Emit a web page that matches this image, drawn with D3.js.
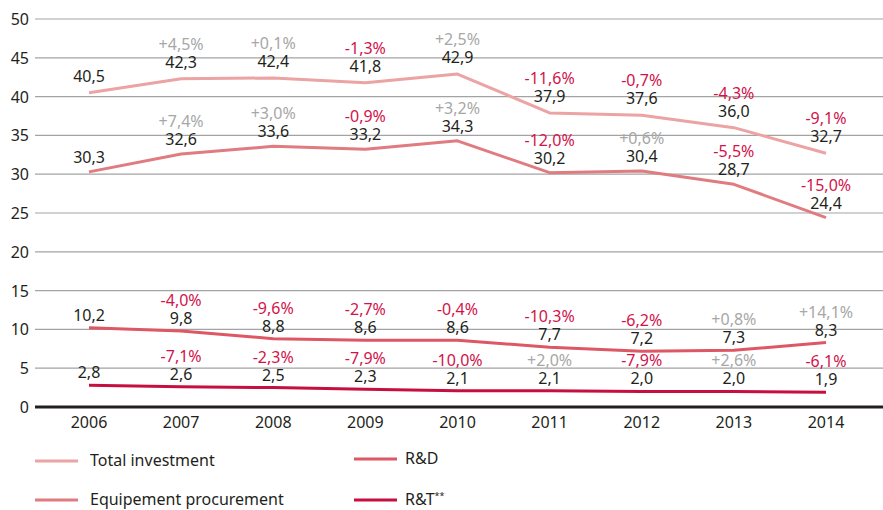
<!DOCTYPE html>
<html>
<head>
<meta charset="utf-8">
<script src="https://cdn.jsdelivr.net/npm/d3@7"></script>
<style>
  body { margin: 0; background: #fff; }
  text { font-family: "Noto Sans", "Open Sans", sans-serif; }
</style>
</head>
<body>
<svg id="chart" width="883" height="510"></svg>
<script>
// data
const years = [2006, 2007, 2008, 2009, 2010, 2011, 2012, 2013, 2014];
const yTicks = [0, 5, 10, 15, 20, 25, 30, 35, 40, 45, 50];

const totalValues = [40.5, 42.3, 42.4, 41.8, 42.9, 37.9, 37.6, 36.0, 32.7];
const totalChange = [null, 4.5, 0.1, -1.3, 2.5, -11.6, -0.7, -4.3, -9.1];
const equipValues = [30.3, 32.6, 33.6, 33.2, 34.3, 30.2, 30.4, 28.7, 24.4];
const equipChange = [null, 7.4, 3.0, -0.9, 3.2, -12.0, 0.6, -5.5, -15.0];
const rdValues = [10.2, 9.8, 8.8, 8.6, 8.6, 7.7, 7.2, 7.3, 8.3];
const rdChange = [null, -4.0, -9.6, -2.7, -0.4, -10.3, -6.2, 0.8, 14.1];
const rtValues = [2.8, 2.6, 2.5, 2.3, 2.1, 2.1, 2.0, 2.0, 1.9];
const rtChange = [null, -7.1, -2.3, -7.9, -10.0, 2.0, -7.9, 2.6, -6.1];

const seriesNames = ["Total investment", "Equipement procurement", "R&D", "R&T"];

const series = [
  { name: seriesNames[0], values: totalValues, change: totalChange, color: "#eba3a3", off: 11 },
  { name: seriesNames[1], values: equipValues, change: equipChange, color: "#e07b80", off: 9 },
  { name: seriesNames[2], values: rdValues, change: rdChange, color: "#dd5764", off: 7 },
  { name: seriesNames[3], values: rtValues, change: rtChange, color: "#c70f3f", off: 7 }
];

const svg = d3.select("#chart");
const mLeft = 35, mRight = 883, mTop = 19, mBottom = 407;
const fs = 16;

const x = d3.scalePoint().domain(years).range([89, 826]);
const y = d3.scaleLinear().domain([0, 50]).range([mBottom, mTop]);

const fmt = v => v.toFixed(1).replace(".", ",");
const fmtPct = v => (v > 0 ? "+" : "") + v.toFixed(1).replace(".", ",") + "%";

// grid
svg.append("g").selectAll("line")
  .data(yTicks.filter(d => d > 0))
  .enter().append("line")
    .attr("x1", mLeft).attr("x2", mRight)
    .attr("y1", d => y(d)).attr("y2", d => y(d))
    .attr("stroke", "#a3a3a3")
    .attr("stroke-width", 1.2);

svg.append("line")
  .attr("x1", mLeft).attr("x2", mRight)
  .attr("y1", y(0)).attr("y2", y(0))
  .attr("stroke", "#231f20")
  .attr("stroke-width", 3);

// y labels
svg.append("g").selectAll("text")
  .data(yTicks)
  .enter().append("text")
    .attr("x", 29)
    .attr("y", d => y(d) + 6)
    .attr("text-anchor", "end")
    .attr("font-size", fs)
    .attr("fill", "#231f20")
    .text(d => d);

// x labels
svg.append("g").selectAll("text")
  .data(years)
  .enter().append("text")
    .attr("x", d => x(d))
    .attr("y", 428)
    .attr("text-anchor", "middle")
    .attr("font-size", fs)
    .attr("fill", "#231f20")
    .text(d => d);

const line = d3.line()
  .x((d, i) => x(years[i]))
  .y(d => y(d));

series.forEach(s => {
  svg.append("path")
    .datum(s.values)
    .attr("d", line)
    .attr("fill", "none")
    .attr("stroke", s.color)
    .attr("stroke-width", 3)
    .attr("stroke-linejoin", "round");

  let pts = s.values.map((v, i) => ({ year: years[i], value: v, change: s.change[i] }));
  let g = svg.append("g");
  g.selectAll("text.val")
    .data(pts)
    .enter().append("text")
      .attr("class", "val")
      .attr("x", d => x(d.year))
      .attr("y", d => y(d.value) - s.off)
      .attr("text-anchor", "middle")
      .attr("font-size", fs)
      .attr("fill", "#231f20")
      .text(d => fmt(d.value));

  g.selectAll("text.pct")
    .data(pts.filter(d => d.change !== null))
    .enter().append("text")
      .attr("class", "pct")
      .attr("x", d => x(d.year))
      .attr("y", d => y(d.value) - s.off - 18)
      .attr("text-anchor", "middle")
      .attr("font-size", fs)
      .attr("fill", d => d.change > 0 ? "#a7a7a7" : "#d2134b")
      .text(d => fmtPct(d.change));
});

// legend
const legendPos = [[35, 461], [35, 500], [354, 459], [354, 500]];
const legend = svg.append("g").selectAll("g")
  .data(series)
  .enter().append("g")
    .attr("transform", (d, i) => "translate(" + legendPos[i][0] + "," + legendPos[i][1] + ")");

legend.append("line")
  .attr("x1", 0).attr("x2", 43)
  .attr("stroke", d => d.color)
  .attr("stroke-width", 3);

legend.append("text")
  .attr("x", d => d.name.startsWith("R&") ? 51 : 55)
  .attr("y", 5)
  .attr("font-size", fs)
  .attr("fill", "#231f20")
  .text(d => d.name)
  .filter(d => d.name === "R&T")
  .append("tspan")
    .attr("dy", -6)
    .attr("font-size", 9)
    .text("**");
</script>
</body>
</html>
